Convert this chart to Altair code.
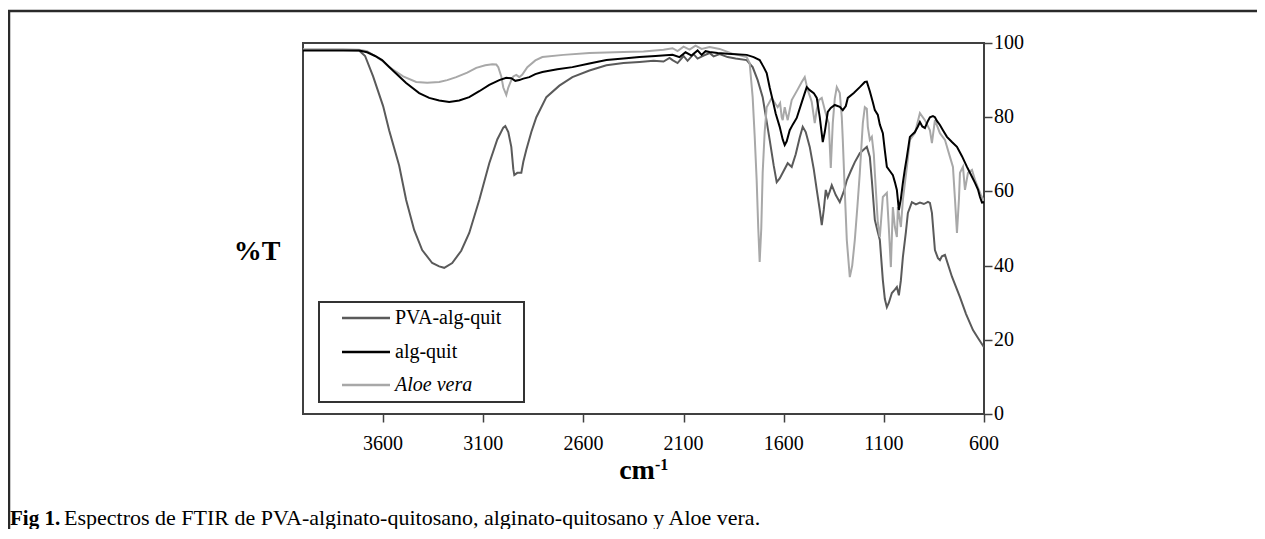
import altair as alt
import pandas as pd

# ---- data (wavenumber cm-1, %T) ----
pva_wn = [4000, 3800, 3720, 3690, 3650, 3600, 3570, 3520, 3485, 3445, 3405, 3355, 3320, 3295, 3255, 3210, 3170, 3120, 3070, 3030, 3000, 2990, 2975, 2960, 2950, 2945, 2930, 2910, 2900, 2885, 2860, 2835, 2785, 2720, 2655, 2570, 2485, 2400, 2320, 2250, 2200, 2170, 2155, 2130, 2100, 2080, 2050, 2030, 2000, 1970, 1950, 1920, 1880, 1840, 1785, 1755, 1730, 1705, 1670, 1650, 1635, 1620, 1605, 1580, 1560, 1540, 1520, 1505, 1490, 1470, 1450, 1435, 1420, 1410, 1400, 1390, 1380, 1370, 1360, 1340, 1320, 1300, 1285, 1265, 1245, 1220, 1185, 1170, 1160, 1145, 1130, 1120, 1105, 1095, 1085, 1075, 1060, 1045, 1035, 1025, 1015, 1005, 990, 980, 960, 940, 920, 900, 880, 870, 860, 845, 830, 820, 810, 795, 760, 720, 690, 655, 630, 600]
pva_t = [98.1, 98.1, 98.0, 96.5, 91, 83, 76.5, 67, 57.7, 49.6, 44.2, 40.7, 39.8, 39.4, 40.7, 44, 48.8, 57.7, 67.6, 74, 77.2, 77.6, 76, 72, 66, 64.4, 65, 65, 68, 71.2, 76, 80, 85.4, 88.5, 90.8, 92.6, 94, 94.6, 94.9, 95.2, 95.0, 96, 95.4, 94.6, 96.5, 95.2, 97, 95.8, 96.6, 97.3, 96.4, 97.0, 96.2, 95.8, 95.4, 93.5, 90, 85.4, 73.9, 67, 62.5, 63.5, 65, 67.6, 66.6, 70, 74.5, 77.4, 76, 72, 66, 60.4, 55, 50.9, 55, 60.4, 58.5, 60, 61.7, 59, 57.1, 60, 63, 65.5, 67.9, 70.3, 72, 69.3, 63, 52.3, 49, 46.9, 36.1, 31, 28.8, 30, 32.6, 33.5, 34.2, 32, 36, 42.3, 49, 54.2, 57.1, 56.5, 57, 56.6, 57.2, 56.9, 54.2, 44.2, 42, 41.5, 42.5, 42.9, 37, 31.5, 27, 22.6, 20.5, 18]

alg_wn = [4000, 3800, 3720, 3680, 3640, 3605, 3550, 3485, 3420, 3370, 3320, 3270, 3220, 3170, 3120, 3070, 3020, 2985, 2960, 2940, 2920, 2900, 2870, 2840, 2805, 2730, 2655, 2570, 2485, 2400, 2320, 2240, 2155, 2120, 2090, 2060, 2030, 2010, 1990, 1970, 1930, 1880, 1840, 1785, 1750, 1720, 1700, 1685, 1670, 1655, 1640, 1620, 1605, 1595, 1585, 1570, 1555, 1535, 1510, 1495, 1485, 1470, 1450, 1435, 1420, 1405, 1395, 1380, 1365, 1345, 1320, 1305, 1290, 1280, 1250, 1220, 1195, 1185, 1170, 1155, 1145, 1130, 1120, 1105, 1095, 1085, 1070, 1055, 1045, 1035, 1025, 1015, 1005, 995, 985, 970, 955, 945, 930, 920, 908, 895, 880, 870, 855, 845, 835, 820, 805, 785, 760, 735, 710, 685, 665, 645, 630, 620, 610, 600]
alg_t = [98, 98, 98, 97.5, 96.5, 95.4, 92.5, 89.2, 86.5, 85.2, 84.5, 84.1, 84.5, 85.4, 87, 88.7, 90, 90.6, 90.5, 89.8, 90, 90.4, 90.8, 91.6, 92.2, 92.9, 93.5, 94.5, 95.4, 95.8, 96.2, 96.5, 96.8, 96.2, 97.5, 96.6, 98, 96.8, 97.8, 97.6, 97.3, 97.1, 97, 96.8, 96.2, 95.4, 93.5, 91.9, 88, 84.6, 81, 77.4, 74, 72.5, 73.5, 76.5, 78, 79.8, 84, 86.5, 88.1, 87.3, 86.5, 85.2, 80, 73.3, 76, 81.4, 82.5, 83.3, 82.8, 81.9, 83, 85.2, 86.5, 88.1, 89.5, 89.6, 87, 84, 81.9, 80.6, 78, 75.7, 71, 66.6, 65.5, 64.4, 62.5, 60.4, 55, 58, 62.3, 66, 69.3, 74.7, 75.5, 76, 77.5, 78.7, 77.5, 77.1, 79, 80, 80.3, 80, 79, 77.9, 76.5, 74.7, 73.3, 72, 69.5, 66.6, 64.5, 62.3, 60.5, 58.5, 57, 57.1]

aloe_wn = [4000, 3800, 3720, 3680, 3640, 3600, 3570, 3500, 3435, 3380, 3320, 3280, 3235, 3180, 3135, 3090, 3055, 3035, 3025, 3010, 3000, 2985, 2975, 2960, 2950, 2935, 2920, 2905, 2880, 2840, 2805, 2700, 2570, 2400, 2300, 2200, 2155, 2130, 2100, 2070, 2040, 2010, 1970, 1920, 1860, 1785, 1770, 1755, 1745, 1735, 1727, 1720, 1712, 1705, 1695, 1685, 1660, 1640, 1630, 1618, 1610, 1605, 1595, 1588, 1580, 1570, 1560, 1530, 1510, 1495, 1480, 1465, 1460, 1445, 1435, 1425, 1410, 1395, 1385, 1375, 1365, 1355, 1345, 1335, 1320, 1310, 1305, 1295, 1285, 1270, 1258, 1245, 1232, 1220, 1205, 1195, 1185, 1180, 1170, 1160, 1150, 1145, 1130, 1120, 1105, 1085, 1075, 1065, 1055, 1045, 1035, 1030, 1015, 1005, 985, 970, 945, 920, 895, 870, 860, 845, 820, 795, 770, 755, 745, 735, 725, 720, 705, 695, 680, 660, 645, 630, 615, 600]
aloe_t = [98.3, 98.3, 98.2, 97.8, 96.5, 95, 93.5, 91, 89.5, 89.3, 89.5, 90, 90.8, 92, 93.3, 94, 94.3, 94.2, 93.5, 91, 88, 86, 88, 90, 91, 91.4, 90.8, 91.5, 93.5, 95.3, 96.2, 96.8, 97.3, 97.6, 97.7, 98.2, 98.6, 97.8, 99.0, 98.2, 99.3, 98.4, 98.9, 98.4, 97.2, 96.2, 94.6, 85.4, 75, 63, 50, 41, 50, 65, 76, 82.7, 85.2, 83.5, 82.7, 83.8, 80, 79.2, 82.7, 81, 79.2, 82, 84.6, 87.5, 89.5, 90.8, 87.3, 85, 84.1, 78.4, 82, 84.6, 85.2, 82, 80, 78.4, 66.3, 78.4, 85, 88.1, 86.5, 80, 73.9, 60, 46.9, 36.9, 40, 46.9, 56, 65, 78.4, 82.7, 82.3, 77.4, 73.9, 74.7, 70, 65, 51.5, 47.7, 58.5, 59.6, 50, 39.6, 55.8, 50.4, 47.7, 55.8, 50.4, 57.7, 66.6, 73.9, 75.7, 81.1, 79.2, 76.5, 73, 79.2, 75.7, 73.9, 69.3, 66.6, 58, 48.8, 58, 65, 66.6, 60.4, 65, 65.8, 63.1, 61, 59, 57.5]

series_names = ["PVA-alg-quit", "alg-quit", "Aloe vera"]
x_ticks = [3600, 3100, 2600, 2100, 1600, 1100, 600]
y_ticks = [0, 20, 40, 60, 80, 100]
caption_bold = "Fig 1."
caption_rest = "Espectros de FTIR de PVA-alginato-quitosano, alginato-quitosano y Aloe vera."

colors = {"PVA-alg-quit": "#5a5a5a", "alg-quit": "#000000", "Aloe vera": "#a8a8a8"}
SERIF = "Liberation Serif"

W, H = 681, 371
PAD_L, PAD_T = 295, 35
TOTAL_W, TOTAL_H = 1249, 521

xscale = alt.Scale(domain=[4000, 600], nice=False, zero=False)
yscale = alt.Scale(domain=[0, 100], nice=False)

x_axis = alt.Axis(values=x_ticks, title=None, orient="bottom", labels=False, domain=False,
                  grid=False, tickSize=8, tickColor="#404040", tickWidth=1.5)
y_axis = alt.Axis(values=y_ticks, title=None, orient="right", labels=False, domain=False,
                  grid=False, tickSize=8, tickColor="#404040", tickWidth=1.5)

def spectrum(wn, t, name):
    df = pd.DataFrame({"wn": wn, "T": t, "order": range(len(wn))})
    return alt.Chart(df).mark_line(color=colors[name], strokeWidth=2, clip=True).encode(
        x=alt.X("wn:Q", scale=xscale, axis=x_axis),
        y=alt.Y("T:Q", scale=yscale, axis=y_axis),
        order="order:Q")

dummy = pd.DataFrame({"k": [0]})

def txt(text, x, y, size, weight="normal", style="normal", align="left", baseline="alphabetic"):
    return alt.Chart(dummy).mark_text(
        text=text, font=SERIF, fontSize=size, fontWeight=weight, fontStyle=style,
        align=align, baseline=baseline, color="#000").encode(x=alt.value(x), y=alt.value(y))

def rule(x1, x2, y1, y2, color, width):
    return alt.Chart(dummy).mark_rule(color=color, strokeWidth=width).encode(
        x=alt.value(x1), x2=alt.value(x2), y=alt.value(y1), y2=alt.value(y2))

layers = [
    spectrum(pva_wn, pva_t, "PVA-alg-quit"),
    spectrum(aloe_wn, aloe_t, "Aloe vera"),
    spectrum(alg_wn, alg_t, "alg-quit"),
]

# tick labels through the same scales
xlab = alt.Chart(pd.DataFrame({"wn": x_ticks, "lab": [str(v) for v in x_ticks]})).mark_text(
    font=SERIF, fontSize=20, color="#000", align="center", baseline="middle").encode(
    x=alt.X("wn:Q", scale=xscale, axis=x_axis), y=alt.value(H + 30), text="lab:N")
ylab = alt.Chart(pd.DataFrame({"T": y_ticks, "lab": [str(v) for v in y_ticks]})).mark_text(
    font=SERIF, fontSize=20, color="#000", align="left", baseline="middle").encode(
    y=alt.Y("T:Q", scale=yscale, axis=y_axis), x=alt.value(W + 10), text="lab:N")
layers += [xlab, ylab]

# legend box
legend_box = alt.Chart(dummy).mark_rect(fill="white", stroke="#333", strokeWidth=2).encode(
    x=alt.value(16), x2=alt.value(221), y=alt.value(259), y2=alt.value(359))
layers.append(legend_box)
rows_y = [275, 309, 342]
for name, yy in zip(series_names, rows_y):
    layers.append(rule(39, 87, yy, yy, colors[name], 2.5))
    layers.append(txt(name, 92, yy, 20, style="italic" if name == "Aloe vera" else "normal",
                      baseline="middle"))

# axis titles
layers.append(txt("%T", -46, 209, 28, weight="bold", align="center", baseline="middle"))
layers.append(txt("cm", 334, 436, 28, weight="bold", align="center"))
layers.append(txt("-1", 352, 427, 16, weight="bold", align="left"))

# caption
layers.append(txt(caption_bold, -293, 482, 21, weight="bold"))
layers.append(txt(caption_rest, -239, 482, 22))

# outer frame (top and left)
layers.append(rule(-296, TOTAL_W - PAD_L, -32, -32, "#2a2a2a", 2.5))
layers.append(rule(-294, -294, -33, TOTAL_H - PAD_T, "#2a2a2a", 2.5))

chart = alt.layer(*layers).properties(
    width=W, height=H,
    autosize=alt.AutoSizeParams(type="none"),
    padding={"left": PAD_L, "top": PAD_T, "right": TOTAL_W - PAD_L - W, "bottom": TOTAL_H - PAD_T - H},
).configure(background="white").configure_view(stroke="#404040", strokeWidth=2)

chart.save("out.html", embed_options={"renderer": "svg", "actions": False})
